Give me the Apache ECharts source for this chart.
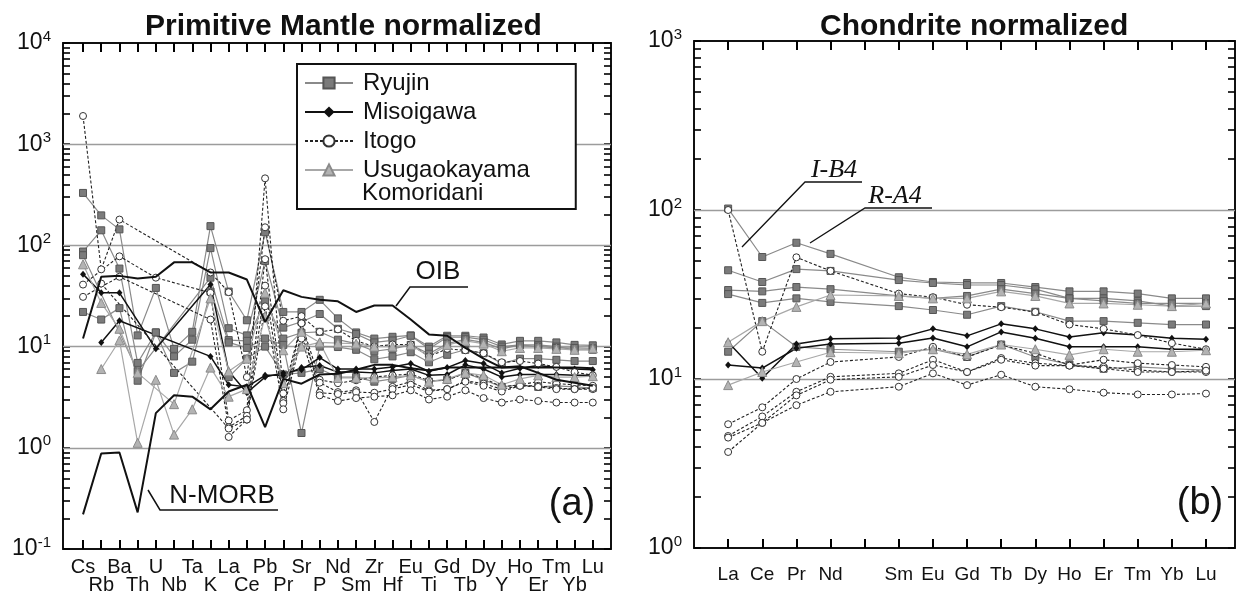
<!DOCTYPE html>
<html><head><meta charset="utf-8">
<script src="https://cdn.jsdelivr.net/npm/echarts@6/dist/echarts.min.js"></script>
<style>html,body{margin:0;padding:0;background:#fff}#c{width:1244px;height:597px}</style>
</head><body><div id="c"></div>
<script>
// ---------- categories ----------
const pmElements = ['Cs','Rb','Ba','Th','U','Nb','Ta','K','La','Ce','Pb','Pr','Sr','P','Nd','Sm','Zr','Hf','Eu','Ti','Gd','Tb','Dy','Y','Ho','Er','Tm','Yb','Lu'];
const reeElements = ['La','Ce','Pr','Nd','Pm','Sm','Eu','Gd','Tb','Dy','Ho','Er','Tm','Yb','Lu'];
const pmDecades = [0.1,1,10,100,1000,10000];
const chDecades = [1,10,100,1000];
const pmGridValues = [1,10,100,1000];
const chGridValues = [10,100];

// ---------- Primitive mantle normalized (order = pmElements) ----------
const pmRyujin1 = [330,198,144,12.9,38,9.5,14,155,35,18.2,135,22,22,29,19,13.8,12,12.5,12.9,10,12.8,12.8,12.3,10.5,11.4,11.4,11,10.4,10.3];
const pmRyujin2 = [87,141,59,6.9,13.8,8,11.7,94,15.2,12.9,70,15.4,17.6,21,15,13.3,11,11.5,12.8,9.5,12.4,12.4,11.7,10,10.4,10.4,10,9.3,9.3];
const pmRyujin3 = [80,null,null,5.7,null,null,null,48,11.6,11.4,28,12,13.7,14,11.7,10.7,9,9.5,10.4,8.5,10.7,11.8,11,9.5,10.4,10,9.7,9.7,9.6];
const pmRyujin4 = [22,18.5,24,4.6,13.8,5.5,7.1,35,11,9.7,12,10.4,1.4,10,9.9,9.3,7.5,8,8.8,7,8.3,9.3,8.6,6.8,7.6,7.6,7.4,7.2,7.2];
const pmRyujin5 = [null,null,null,null,null,null,null,null,5,7.6,10,5.3,5.5,6,5,5,4.5,4.8,5.2,4.5,4.7,5.5,4.7,4,4.2,4,4.1,4,3.9];
const pmMisoigawa1 = [52,34,34,null,9.5,null,null,41,5.7,3.5,5,5.5,5.9,7.8,6,6,6,6.3,6.8,5.7,6.2,7.3,6.8,5.5,6.1,6.5,6.2,6,5.9];
const pmMisoigawa2 = [null,11,18,null,null,null,null,8,4.2,4.0,5.2,5.2,6.2,6.5,5.6,5.6,5.5,5.8,6,5.2,5.3,6.6,6,5,5.3,5.3,5.3,5.2,5.2];
const pmItogo1 = [1900,58,180,null,null,null,null,54,34.5,5,151,18,20,14,14.8,11.4,10,10.5,10.5,8,9.5,9.2,8.6,7,7.2,6.8,6.3,5.6,5.2];
const pmItogo2 = [41,null,78,null,48,null,null,34,1.86,2.35,460,3.45,17,4.7,4.35,4.65,5,5.2,5.35,4.6,4.65,5.5,4.9,4,4.2,4.5,4.3,4.2,4.1];
const pmItogo3 = [31,null,49,null,null,null,null,18.5,1.6,2.07,73,2.9,13,4.4,3.55,3.7,1.8,4,4.5,3.7,3.8,4.6,4.3,3.8,4.1,4.1,3.9,3.8,3.8];
const pmItogo4 = [null,42,null,null,null,null,null,null,1.55,1.9,40,2.76,17,3.5,3.4,3.55,3.5,3.8,4.2,3.6,3.8,4.5,4.1,3.6,4.1,4,3.8,3.8,3.9];
const pmItogo5 = [null,null,null,null,null,null,null,null,1.28,1.9,25,2.4,12,3.3,2.9,3.1,3.2,3.3,3.7,3,3.2,3.7,3.1,2.8,3,2.9,2.8,2.8,2.8];
const pmUsugao1 = [null,6,11.5,1.12,4.7,1.35,2.4,6.2,3.2,3.8,20,4.35,10,11,4.9,4.9,4.9,5,5.2,4.5,4.8,5.5,5.2,4.2,4.8,5.2,5,5,5.1];
const pmUsugao2 = [65,27,15,5.5,null,2.7,null,30,5.7,7.6,34,9.2,14,11,10.8,10.7,10,10,10.4,8,10.4,11.4,10.7,9,9.7,9.7,9.5,9.3,9.6];
const pmOIB = [12,49,50,47,49,68,68,54,54,46,17.5,36,31,29,28,22,25.5,25.5,18.5,13.2,12.8,9.7,7.6,6.2,6.4,5.5,4.7,4.4,4.1];
const pmNMORB = [0.22,0.88,0.9,0.23,2.2,3.3,3.2,2.4,3.6,4.2,1.6,4.8,4.3,5.3,5.4,5.9,6.6,6.6,6.1,5.8,6.2,6.2,6.2,6.2,6.2,6.2,6.2,6.2,6.1];

// ---------- Chondrite normalized (order = reeElements, Pm empty) ----------
const chRyujin1 = [102,52.7,64,55,null,40,37.5,37,37,35,33,33,32,30,30];
const chRyujin2 = [44,37.5,44.7,43.6,null,38.5,37,36,36,34,30,30,29,27,27];
const chRyujin3 = [33.6,33,35,34,null,31,30,31,34,32,30,29,28,28,28];
const chRyujin4 = [31.8,28.2,30,28.6,null,27,25.6,24,27,25,22,22,21.5,21,21];
const chRyujin5 = [14.5,22,15.5,15,null,14.5,15,13.5,16,13.5,12.2,11.5,11.8,11.5,11.3];
const chMisoigawa1 = [16.5,10.1,16.1,17.3,null,17.5,19.8,18,21.2,19.8,17.7,18.8,18.2,17.4,17.2];
const chMisoigawa2 = [12.1,11.6,15.2,16.1,null,16.3,17.5,15.5,19,17.4,15.5,15.5,15.5,15,15];
const chItogo1 = [100,14.5,52.5,43.6,null,32,30.5,27.5,26.6,24.9,21,19.8,18.2,16.3,15];
const chItogo2 = [5.4,6.8,10,12.6,null,13.5,15.5,13.5,15.9,14.2,12.1,13,12.4,12.1,11.8];
const chItogo3 = [4.6,6.0,8.4,10.3,null,10.8,13,11,13.3,12.4,12,11.8,11.3,11,11];
const chItogo4 = [4.5,5.5,8.0,9.9,null,10.3,12.1,11,13,12,12,11.5,11,11,11.2];
const chItogo5 = [3.7,5.5,7.0,8.4,null,9.0,10.8,9.2,10.6,9.0,8.7,8.3,8.1,8.1,8.2];
const chUsugao1 = [9.2,11,12.6,14.4,null,14.2,15,14,16,15,13.9,15,14.5,14.5,14.8];
const chUsugao2 = [16.5,22,26.7,31.4,null,31,30,30,33,31,28,28,27.5,27,28];

const groupNames = ['Ryujin','Misoigawa','Itogo','Usugaokayama Komoridani'];
const pmGroups = [[pmRyujin1,pmRyujin2,pmRyujin3,pmRyujin4,pmRyujin5],[pmMisoigawa1,pmMisoigawa2],[pmItogo1,pmItogo2,pmItogo3,pmItogo4,pmItogo5],[pmUsugao1,pmUsugao2]];
const chGroups = [[chRyujin1,chRyujin2,chRyujin3,chRyujin4,chRyujin5],[chMisoigawa1,chMisoigawa2],[chItogo1,chItogo2,chItogo3,chItogo4,chItogo5],[chUsugao1,chUsugao2]];

// ---------- styling ----------
const FONT = '"Liberation Sans", Arial, Helvetica, sans-serif';
const INK = '#111';
const styles = {
  'Ryujin': {symbol:'rect', symbolSize:7, itemStyle:{color:'#7b7b7b', borderColor:'#555', borderWidth:1}, lineStyle:{color:'#8a8a8a', width:1.2}},
  'Misoigawa': {symbol:'diamond', symbolSize:[6,7], itemStyle:{color:'#111'}, lineStyle:{color:'#111', width:1.5}},
  'Itogo': {symbol:'circle', symbolSize:7, itemStyle:{color:'#fff', borderColor:'#333', borderWidth:1}, lineStyle:{color:'#222', width:1.1, type:[3,2]}},
  'Usugaokayama Komoridani': {symbol:'triangle', symbolSize:9, itemStyle:{color:'#b3b3b3', borderColor:'#8a8a8a', borderWidth:1}, lineStyle:{color:'#a8a8a8', width:1.2}}
};

function toPairs(arr){ const out=[]; arr.forEach((v,i)=>{ if(v!=null) out.push([i,v]); }); return out; }
function logTicks(lo, hi){ const t=[]; for(let d=lo; d<hi; d*=10){ for(let k=1;k<=9;k++) t.push(+(d*k).toPrecision(6)); } t.push(hi); return t; }
const pmIdx = pmElements.map((_,i)=>i);
const pmEven = pmIdx.filter(i=>i%2===0);
const pmOdd = pmIdx.filter(i=>i%2===1);
const reeIdx = reeElements.map((_,i)=>i);
const reeLabIdx = reeIdx.filter(i=>reeElements[i] !== 'Pm');

function gridMarkLine(values){
  return {silent:true, z:1, symbol:'none', animation:false, label:{show:false},
    lineStyle:{color:'#9c9c9c', width:1.3, type:'solid'}, emphasis:{disabled:true},
    data: values.map(v => ({yAxis:v}))};
}

const series = [];
series.push({type:'line', name:'gridPM', xAxisIndex:0, yAxisIndex:0, data:[], markLine:gridMarkLine(pmGridValues), z:1, animation:false});
series.push({type:'line', name:'gridCH', xAxisIndex:3, yAxisIndex:2, data:[], markLine:gridMarkLine(chGridValues), z:1, animation:false});
groupNames.forEach((name,g)=>{
  pmGroups[g].forEach(arr=>series.push(Object.assign({type:'line', name, xAxisIndex:0, yAxisIndex:0, data:toPairs(arr), showSymbol:true, z:3, animation:false, emphasis:{disabled:true}}, styles[name])));
  chGroups[g].forEach(arr=>series.push(Object.assign({type:'line', name, xAxisIndex:3, yAxisIndex:2, data:toPairs(arr), showSymbol:true, z:3, animation:false, emphasis:{disabled:true}}, styles[name])));
});
series.push({type:'line', name:'OIB', xAxisIndex:0, yAxisIndex:0, data:toPairs(pmOIB), symbol:'none', lineStyle:{color:INK, width:2}, z:4, animation:false});
series.push({type:'line', name:'N-MORB', xAxisIndex:0, yAxisIndex:0, data:toPairs(pmNMORB), symbol:'none', lineStyle:{color:INK, width:2}, z:4, animation:false});

const supRich = {b:{fontSize:23, fontFamily:FONT, color:INK}, s:{fontSize:15, fontFamily:FONT, color:INK, padding:[0,0,13,0]}};
const supFmt = v => '{b|10}{s|' + Math.round(Math.log10(v)) + '}';

function xBottom(grid, min, max, tickIdx, labIdx, names, labelOpts, showLine){
  return {type:'value', gridIndex:grid, min, max, position:'bottom', splitLine:{show:false},
    axisLine:{show:showLine, onZero:false, lineStyle:{color:INK, width:2}},
    axisTick:{show:showLine, inside:true, length:9, customValues:tickIdx.slice(), lineStyle:{color:'#000', width:2}},
    axisLabel:Object.assign({show:true, customValues:labIdx.slice(), formatter:v => names[Math.round(v)], color:INK, fontFamily:FONT, showMinLabel:true, showMaxLabel:true}, labelOpts)};
}
function xTop(grid, min, max, tickIdx){
  return {type:'value', gridIndex:grid, min, max, position:'top', splitLine:{show:false},
    axisLine:{show:true, onZero:false, lineStyle:{color:INK, width:2}},
    axisTick:{show:true, inside:true, length:9, customValues:tickIdx.slice(), lineStyle:{color:'#000', width:2}}, axisLabel:{show:false}};
}
function yPair(grid, min, max, majors, ticks){
  return [
    {type:'log', logBase:10, gridIndex:grid, min, max, position:'left', axisLine:{show:true, onZero:false, lineStyle:{color:INK, width:2}},
      axisTick:{show:true, inside:true, length:7, customValues:ticks.slice(), lineStyle:{color:'#000', width:1.6}},
      axisLabel:{show:true, formatter:supFmt, rich:supRich, margin:12, customValues:majors.slice(), showMinLabel:true, showMaxLabel:true},
      splitLine:{show:false}},
    {type:'log', logBase:10, gridIndex:grid, min, max, position:'right', axisLine:{show:true, onZero:false, lineStyle:{color:INK, width:2}},
      axisTick:{show:true, inside:true, length:7, customValues:ticks.slice(), lineStyle:{color:'#000', width:1.6}},
      axisLabel:{show:false}, splitLine:{show:false}}
  ];
}

const option = {
  backgroundColor:'#fff',
  animation:false,
  title:[
    {text:'Primitive Mantle normalized', left:140, top:7, textStyle:{fontSize:30, fontWeight:'bold', fontFamily:FONT, color:INK}},
    {text:'Chondrite normalized', left:815, top:7, textStyle:{fontSize:30, fontWeight:'bold', fontFamily:FONT, color:INK}}
  ],
  grid:[
    {left:63, top:43, width:548, height:506},
    {left:694, top:41, width:541, height:507}
  ],
  xAxis:[
    xBottom(0, -1.1, 29, pmIdx, pmEven, pmElements, {fontSize:20, lineHeight:20, margin:8}, true),
    xBottom(0, -1.1, 29, pmIdx, pmOdd, pmElements, {fontSize:20, lineHeight:20, margin:26}, false),
    xTop(0, -1.1, 29, pmIdx),
    xBottom(1, -1, 14.85, reeIdx, reeLabIdx, reeElements, {fontSize:19, lineHeight:20, margin:17}, true),
    xTop(1, -1, 14.85, reeIdx)
  ],
  yAxis:[].concat(
    yPair(0, 0.1, 10000, pmDecades, logTicks(0.1, 10000)),
    yPair(1, 1, 1000, chDecades, logTicks(1, 1000))
  ),
  legend:{
    left:297, top:64, orient:'vertical', selectedMode:false,
    data:groupNames,
    formatter: n => n === 'Usugaokayama Komoridani' ? 'Usugaokayama' : n,
    itemWidth:48, itemHeight:14, itemGap:3,
    padding:[6,46,26,7],
    backgroundColor:'#fff', borderColor:INK, borderWidth:2,
    textStyle:{fontSize:24, lineHeight:26, fontFamily:FONT, color:INK, padding:[0,0,0,5]}
  },
  graphic:[
    {type:'text', z:100, style:{text:'Komoridani', x:362, y:193, verticalAlign:'middle', fontSize:24, fontFamily:FONT, fill:INK}},
    {type:'text', z:100, style:{text:'OIB', x:438, y:272, align:'center', verticalAlign:'middle', fontSize:26, fontFamily:FONT, fill:INK}},
    {type:'polyline', z:100, shape:{points:[[468,287],[410,287],[396,306]]}, style:{stroke:INK, lineWidth:1.5, fill:null}},
    {type:'text', z:100, style:{text:'N-MORB', x:222, y:496, align:'center', verticalAlign:'middle', fontSize:26, fontFamily:FONT, fill:INK}},
    {type:'polyline', z:100, shape:{points:[[278,510],[160,510],[148,490]]}, style:{stroke:INK, lineWidth:1.5, fill:null}},
    {type:'text', z:100, style:{text:'I-B4', x:834, y:170, align:'center', verticalAlign:'middle', fontSize:26, fontStyle:'italic', fontFamily:'"Liberation Serif", "DejaVu Serif", serif', fill:INK}},
    {type:'polyline', z:100, shape:{points:[[862,182],[805,182],[742,247]]}, style:{stroke:INK, lineWidth:1.3, fill:null}},
    {type:'text', z:100, style:{text:'R-A4', x:895, y:196, align:'center', verticalAlign:'middle', fontSize:26, fontStyle:'italic', fontFamily:'"Liberation Serif", "DejaVu Serif", serif', fill:INK}},
    {type:'polyline', z:100, shape:{points:[[932,208],[865,208],[810,243]]}, style:{stroke:INK, lineWidth:1.3, fill:null}},
    {type:'text', z:100, style:{text:'(a)', x:572, y:505, align:'center', verticalAlign:'middle', fontSize:38, fontFamily:FONT, fill:INK}},
    {type:'text', z:100, style:{text:'(b)', x:1200, y:504, align:'center', verticalAlign:'middle', fontSize:38, fontFamily:FONT, fill:INK}}
  ],
  series
};
const chart = echarts.init(document.getElementById('c'));
chart.setOption(option);
</script></body></html>
